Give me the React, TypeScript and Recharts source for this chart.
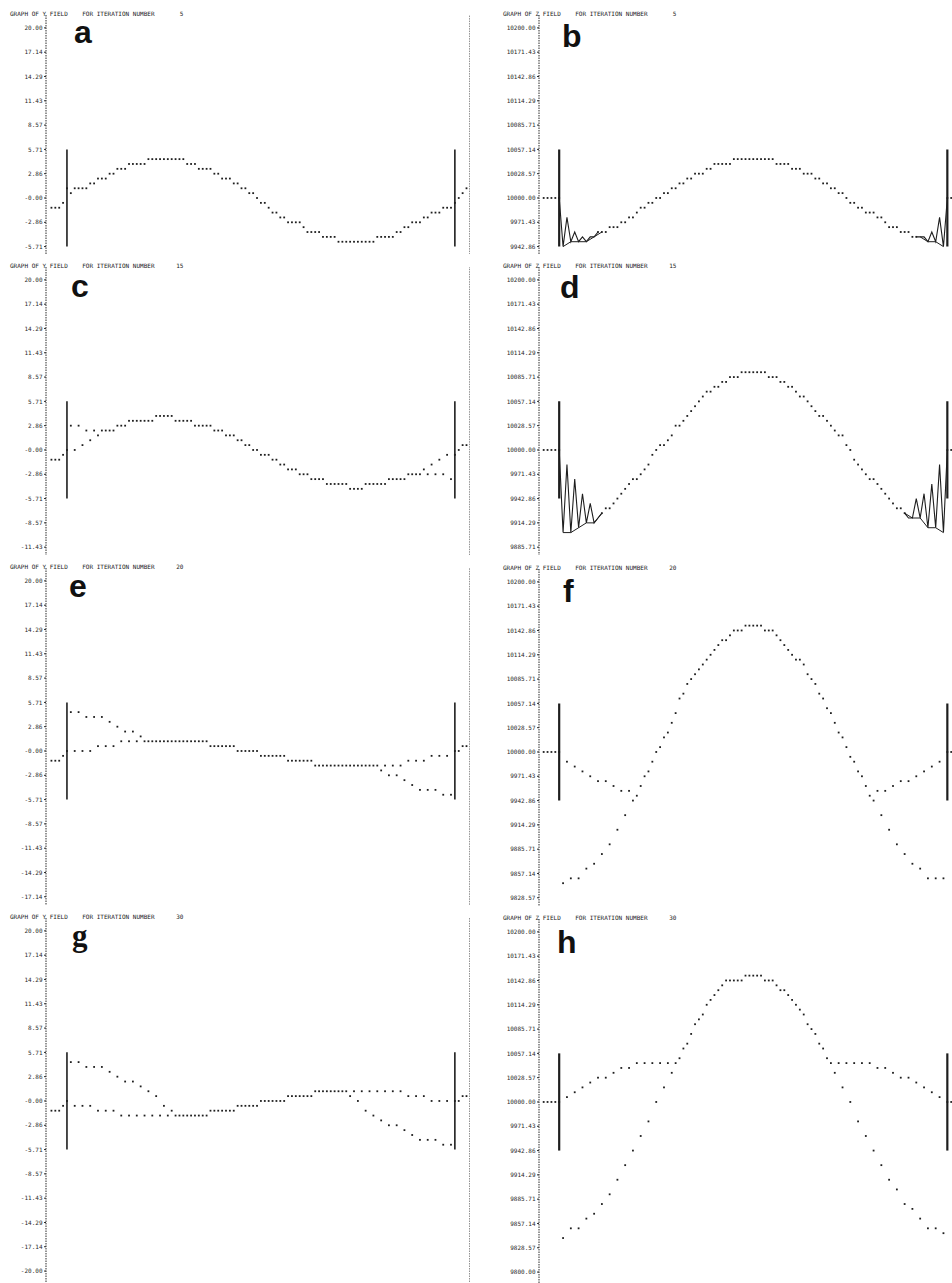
import { ComposedChart, Line, ReferenceLine, Scatter, XAxis, YAxis } from 'recharts';

// Labels printed down the axis of each plot
const yTickLabels = ['20.00', '17.14', '14.29', '11.43', '8.57', '5.71', '2.86', '-0.00', '-2.86', '-5.71', '-8.57', '-11.43', '-14.29', '-17.14', '-20.00'];
const zTickLabels = ['10200.00', '10171.43', '10142.86', '10114.29', '10085.71', '10057.14', '10028.57', '10000.00', '9971.43', '9942.86', '9914.29', '9885.71', '9857.14', '9828.57', '9800.00'];

const iterations = ['5', '5', '15', '15', '20', '20', '30', '30'];

// Field values in printer rows (5 rows per tick interval), one per column 0..100 between the walls
const aRows = [
  2, 1, 2, 2, 2, 2, 3, 3, 4, 4,
  4, 5, 5, 6, 6, 6, 7, 7, 7, 7,
  7, 8, 8, 8, 8, 8, 8, 8, 8, 8,
  8, 7, 7, 7, 6, 6, 6, 6, 5, 5,
  4, 4, 4, 3, 3, 2, 2, 1, 1, 0,
  -1, -1, -2, -3, -3, -4, -4, -5, -5, -5,
  -5, -6, -7, -7, -7, -7, -8, -8, -8, -8,
  -9, -9, -9, -9, -9, -9, -9, -9, -9, -9,
  -8, -8, -8, -8, -8, -7, -7, -6, -6, -5,
  -5, -5, -4, -4, -3, -3, -3, -2, -2, -2,
  -1,
];

const bRows = [
  0, -10, -4, -9, -7, -9, -8, -9, -8, -8,
  -7, -7, -7, -6, -6, -6, -5, -5, -4, -4,
  -3, -2, -2, -1, -1, 0, 0, 1, 1, 2,
  2, 3, 3, 4, 4, 5, 5, 5, 6, 6,
  7, 7, 7, 7, 7, 8, 8, 8, 8, 8,
  8, 8, 8, 8, 8, 8, 7, 7, 7, 7,
  6, 6, 6, 5, 5, 5, 4, 4, 3, 3,
  2, 2, 1, 1, 0, -1, -1, -2, -2, -3,
  -3, -3, -4, -4, -5, -6, -6, -6, -7, -7,
  -7, -8, -8, -8, -8, -9, -7, -9, -4, -10,
  0,
];

const cRows = [
  0, 5, 0, 5, 1, 4, 2, 4, 3, 4,
  4, 4, 4, 5, 5, 5, 6, 6, 6, 6,
  6, 6, 6, 7, 7, 7, 7, 7, 6, 6,
  6, 6, 6, 5, 5, 5, 5, 5, 4, 4,
  4, 3, 3, 3, 2, 2, 1, 1, 0, 0,
  -1, -1, -1, -2, -2, -3, -3, -4, -4, -4,
  -5, -5, -5, -6, -6, -6, -6, -7, -7, -7,
  -7, -7, -7, -8, -8, -8, -8, -7, -7, -7,
  -7, -7, -7, -6, -6, -6, -6, -6, -5, -5,
  -5, -5, -4, -5, -3, -5, -2, -5, -1, -6,
  -1,
];

const dRows = [
  0, -17, -3, -17, -6, -16, -9, -15, -11, -15,
  -14, -13, -12, -12, -11, -10, -9, -8, -7, -6,
  -6, -5, -4, -3, -1, 0, 1, 1, 2, 3,
  5, 5, 6, 7, 8, 9, 10, 11, 12, 12,
  13, 13, 14, 14, 15, 15, 15, 16, 16, 16,
  16, 16, 16, 16, 15, 15, 15, 14, 14, 13,
  13, 12, 11, 11, 10, 9, 8, 7, 7, 6,
  5, 4, 3, 3, 1, 0, -2, -3, -4, -5,
  -6, -6, -7, -8, -9, -10, -11, -12, -12, -13,
  -14, -14, -10, -14, -9, -16, -7, -16, -3, -17,
  0,
];

const eRows = [
  0, 8, 0, 8, 0, 7, 0, 7, 1, 7,
  1, 6, 1, 5, 2, 4, 2, 4, 2, 3,
  2, 2, 2, 2, 2, 2, 2, 2, 2, 2,
  2, 2, 2, 2, 2, 2, 2, 1, 1, 1,
  1, 1, 1, 1, 0, 0, 0, 0, 0, 0,
  -1, -1, -1, -1, -1, -1, -1, -2, -2, -2,
  -2, -2, -2, -2, -3, -3, -3, -3, -3, -3,
  -3, -3, -3, -3, -3, -3, -3, -3, -3, -3,
  -3, -4, -3, -5, -3, -5, -3, -6, -2, -7,
  -2, -8, -2, -8, -1, -8, -1, -9, -1, -9,
  0,
];

const fRows = [
  0, -27, -2, -26, -3, -26, -4, -24, -5, -23,
  -6, -21, -6, -19, -7, -16, -8, -13, -8, -10,
  -9, -7, -5, -4, -2, 0, 1, 3, 4, 6,
  8, 11, 12, 14, 15, 16, 17, 18, 19, 20,
  21, 22, 23, 23, 24, 25, 25, 25, 26, 26,
  26, 26, 26, 25, 25, 25, 24, 23, 22, 21,
  20, 19, 19, 18, 16, 15, 14, 12, 11, 9,
  8, 6, 4, 3, 1, -1, -2, -4, -5, -7,
  -9, -10, -8, -13, -8, -16, -7, -19, -6, -21,
  -6, -23, -5, -24, -4, -26, -3, -26, -2, -26,
  0,
];

const gRows = [
  0, 8, -1, 8, -1, 7, -1, 7, -2, 7,
  -2, 6, -2, 5, -3, 4, -3, 4, -3, 3,
  -3, 2, -3, 1, -3, -1, -3, -2, -3, -3,
  -3, -3, -3, -3, -3, -3, -3, -2, -2, -2,
  -2, -2, -2, -2, -1, -1, -1, -1, -1, -1,
  0, 0, 0, 0, 0, 0, 0, 1, 1, 1,
  1, 1, 1, 1, 2, 2, 2, 2, 2, 2,
  2, 2, 2, 1, 2, 0, 2, -2, 2, -3,
  2, -4, 2, -5, 2, -5, 2, -6, 1, -7,
  1, -8, 1, -8, 0, -8, 0, -9, 0, -9,
  0,
];

const hRows = [
  0, -28, 1, -26, 2, -26, 3, -24, 4, -23,
  5, -21, 5, -19, 6, -16, 7, -13, 7, -10,
  8, -7, 8, -4, 8, 0, 8, 3, 8, 6,
  8, 9, 11, 12, 14, 16, 17, 18, 20, 21,
  22, 23, 24, 25, 25, 25, 25, 25, 26, 26,
  26, 26, 26, 25, 25, 25, 24, 23, 23, 22,
  21, 20, 19, 18, 16, 15, 14, 12, 11, 9,
  8, 6, 8, 3, 8, 0, 8, -4, 8, -7,
  8, -10, 7, -13, 7, -16, 6, -18, 5, -21,
  5, -22, 4, -24, 3, -26, 2, -26, 1, -27,
  0,
];

// Points printed outside the two walls (rows)
const yOutsideLeft = [-2, -2, -2, -1];
const aOutsideRight = [0, 1, 2];
const cegOutsideRight = [0, 1, 1];
const zOutsideLeft = [0, 0, 0, 0];
const zOutsideRight = [0];

const TICK_PX = 24.3;
const PAD_TOP = 0.53;
const WALL_ROWS = 10;
const LEFT_X: [number, number] = [-5.4, 103.9];
const RIGHT_X: [number, number] = [-5.2, 101.2];
const INK = '#1e1e1e';

const printDot = (props: { cx?: number; cy?: number }) => (
  <rect x={(props.cx ?? 0) - 0.9} y={(props.cy ?? 0) - 0.9} width={1.8} height={1.8} fill={INK} />
);

interface PlotProps {
  field: 'Y' | 'Z';
  centre: number;
  tickCount: number;
  rows: number[];
  before: number[];
  after: number[];
  traced?: [number, number][];
  padBottom?: number;
}

function PrinterPlot({ field, centre, tickCount, rows, before, after, traced = [], padBottom = 0.33 }: PlotProps) {
  const isY = field === 'Y';
  const labels = (isY ? yTickLabels : zTickLabels).slice(0, tickCount);
  const ticks = labels.map(Number);
  const base = isY ? 0 : 10000;
  const rowSize = isY ? 20 / 35 : 200 / 35;
  const step = rowSize * 5;
  const domain: [number, number] = [ticks[ticks.length - 1] - padBottom * step, ticks[0] + PAD_TOP * step];
  const height = (tickCount - 1 + PAD_TOP + padBottom) * TICK_PX;
  const top = centre - (7 + PAD_TOP) * TICK_PX;
  const axisWidth = isY ? 46 : 63;
  const xDomain = isY ? LEFT_X : RIGHT_X;

  const toPoint = (r: number, x: number) => ({ x, y: base + r * rowSize });
  const inside = rows.map((r, c) => toPoint(r, c));
  const isTraced = (x: number) => traced.some(([a, b]) => x > a && x < b);
  const dots = [
    ...before.map((r, i) => toPoint(r, i - before.length)),
    ...inside.filter((p) => !isTraced(p.x)),
    ...after.map((r, i) => toPoint(r, 101 + i)),
  ];
  const wallHi = base + WALL_ROWS * rowSize;
  const wallLo = base - WALL_ROWS * rowSize;

  return (
    <div style={{ position: 'absolute', left: isY ? 0 : 476, top }}>
      <ComposedChart width={isY ? 470 : 476} height={height} margin={{ top: 0, right: 0, bottom: 0, left: 0 }}>
        <XAxis type="number" dataKey="x" domain={xDomain} hide allowDataOverflow />
        <YAxis
          type="number"
          dataKey="y"
          domain={domain}
          ticks={ticks}
          interval={0}
          allowDataOverflow
          width={axisWidth}
          tickFormatter={(v: number) => labels[ticks.indexOf(v)] ?? ''}
          tick={{ fontSize: 6, fontFamily: 'DejaVu Sans Mono', fill: '#2a2a2a' }}
          tickSize={2}
          tickMargin={1.5}
          axisLine={{ stroke: '#2a2a2a', strokeDasharray: '1.5 1' }}
          tickLine={{ stroke: '#2a2a2a' }}
        />
        {isY ? <ReferenceLine x={LEFT_X[1]} stroke="#2a2a2a" strokeDasharray="1.5 1" /> : null}
        {[0, 100].map((wx) => (
          <Line
            key={wx}
            data={[{ x: wx, y: wallHi }, { x: wx, y: wallLo }]}
            dataKey="y"
            stroke={INK}
            strokeWidth={isY ? 1.6 : 2.2}
            dot={false}
            isAnimationActive={false}
          />
        ))}
        {traced.map(([a, b]) => (
          <Line
            key={`zig-${a}`}
            data={inside.slice(a, b + 1)}
            dataKey="y"
            type="linear"
            stroke={INK}
            strokeWidth={1.1}
            dot={false}
            isAnimationActive={false}
          />
        ))}
        {traced.map(([a, b]) => (
          <Line
            key={`env-${a}`}
            data={inside.filter((p) => p.x >= a && p.x <= b + 1 && p.x % 2 === 1)}
            dataKey="y"
            type="linear"
            stroke={INK}
            strokeWidth={1}
            dot={false}
            isAnimationActive={false}
          />
        ))}
        <Scatter data={dots} dataKey="y" shape={printDot} isAnimationActive={false} />
      </ComposedChart>
    </div>
  );
}

const centres = [197.7, 197.7, 450, 450, 751, 751.7, 1101, 1101.7];
const letters = [
  { t: 'a', x: 74, y: 43 },
  { t: 'b', x: 562, y: 47 },
  { t: 'c', x: 71, y: 297 },
  { t: 'd', x: 560, y: 298 },
  { t: 'e', x: 69, y: 597 },
  { t: 'f', x: 563, y: 602 },
  { t: 'g', x: 72, y: 946 },
  { t: 'h', x: 557, y: 953 },
];

export default function App() {
  return (
    <div style={{ position: 'absolute', left: 0, top: 0, width: 952, height: 1283, overflow: 'hidden', background: '#fff' }}>
      <PrinterPlot field="Y" centre={centres[0]} tickCount={10} rows={aRows} before={yOutsideLeft} after={aOutsideRight} />
      <PrinterPlot field="Z" centre={centres[1]} tickCount={10} rows={bRows} before={zOutsideLeft} after={zOutsideRight} traced={[[0, 10], [92, 100]]} />
      <PrinterPlot field="Y" centre={centres[2]} tickCount={12} rows={cRows} before={yOutsideLeft} after={cegOutsideRight} />
      <PrinterPlot field="Z" centre={centres[3]} tickCount={12} rows={dRows} before={zOutsideLeft} after={zOutsideRight} traced={[[0, 11], [89, 100]]} />
      <PrinterPlot field="Y" centre={centres[4]} tickCount={14} rows={eRows} before={yOutsideLeft} after={cegOutsideRight} />
      <PrinterPlot field="Z" centre={centres[5]} tickCount={14} rows={fRows} before={zOutsideLeft} after={zOutsideRight} />
      <PrinterPlot field="Y" centre={centres[6]} tickCount={15} rows={gRows} before={yOutsideLeft} after={cegOutsideRight} padBottom={0.45} />
      <PrinterPlot field="Z" centre={centres[7]} tickCount={15} rows={hRows} before={zOutsideLeft} after={zOutsideRight} padBottom={0.45} />
      <svg width={952} height={1283} style={{ position: 'absolute', left: 0, top: 0, pointerEvents: 'none' }}>
        {iterations.map((it, i) => (
          <text
            key={`t${i}`}
            x={i % 2 === 0 ? 10 : 503}
            y={centres[i] - 7 * TICK_PX - 12}
            fontFamily="DejaVu Sans Mono"
            fontSize={6}
            fill="#222"
            style={{ whiteSpace: 'pre' }}
          >
            {`GRAPH OF ${i % 2 === 0 ? 'Y' : 'Z'} FIELD    FOR ITERATION NUMBER${it.padStart(8)}`}
          </text>
        ))}
        {letters.map((l) => (
          <text
            key={l.t}
            x={l.x}
            y={l.y}
            fontFamily={l.t === 'g' ? 'Liberation Serif' : 'Liberation Sans'}
            fontWeight="bold"
            fontSize={l.t === 'g' ? 31 : 32}
            fill="#111"
          >
            {l.t}
          </text>
        ))}
      </svg>
    </div>
  );
}
